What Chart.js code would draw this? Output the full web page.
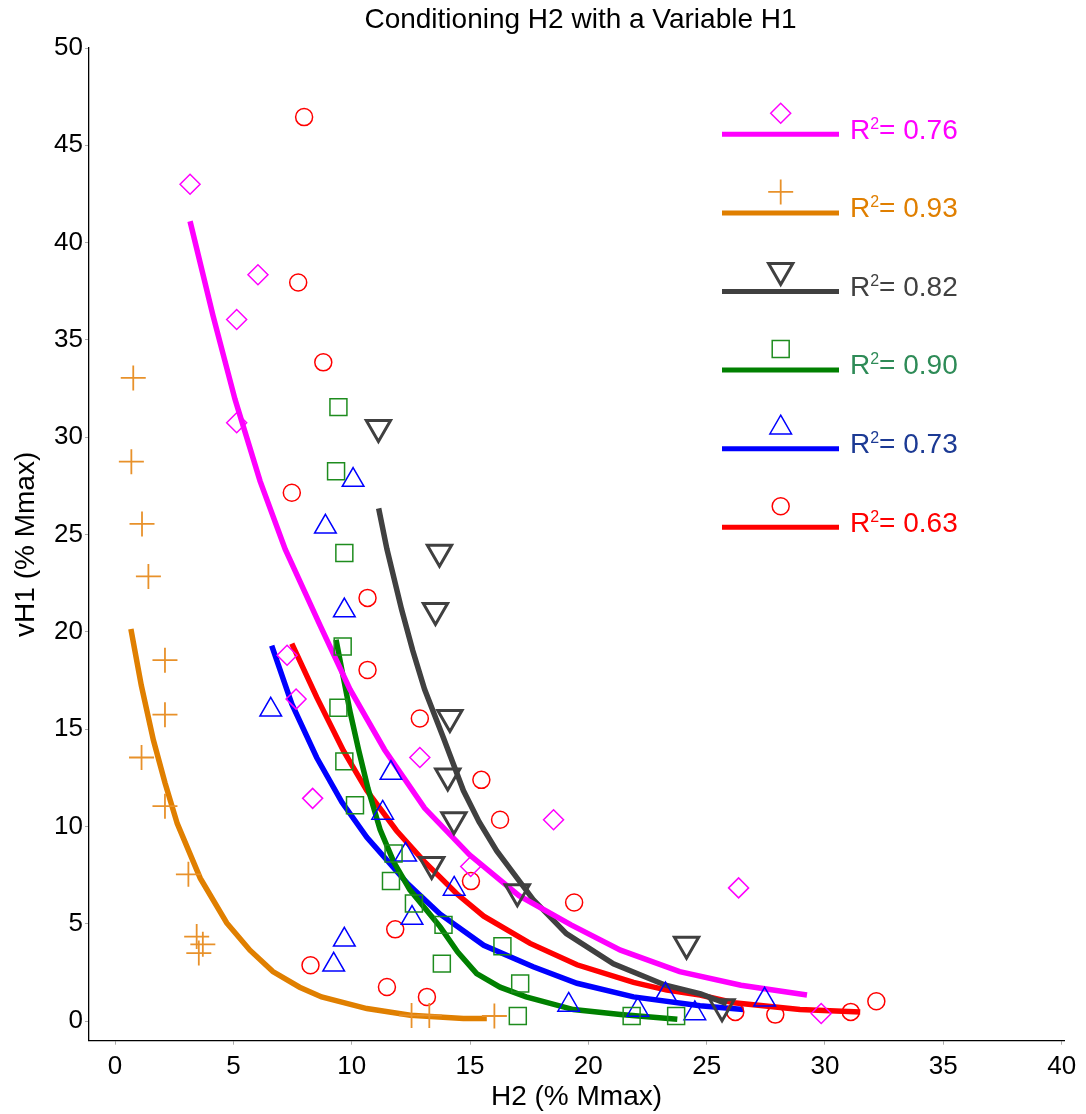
<!DOCTYPE html>
<html>
<head>
<meta charset="utf-8">
<script src="https://cdn.jsdelivr.net/npm/chart.js"></script>
<style>
  html, body { margin: 0; padding: 0; background: #fff; }
  #wrap { width: 1086px; height: 1114px; }
</style>
</head>
<body>
<div id="wrap"><canvas id="chart" width="1086" height="1114"></canvas></div>
<script>
// axis ticks
const xTicks = [0, 5, 10, 15, 20, 25, 30, 35, 40];
const yTicks = [0, 5, 10, 15, 20, 25, 30, 35, 40, 45, 50];
const r2Values = ['0.76', '0.93', '0.82', '0.90', '0.73', '0.63'];

// measured points [H2, vH1]
const diamondPts = [[3.17, 43.0], [6.04, 38.35], [5.14, 36.05], [5.14, 30.75], [7.27, 18.8], [7.65, 16.55],
  [8.35, 11.45], [12.88, 13.55], [15.03, 7.95], [18.53, 10.35], [26.35, 6.85], [29.84, 0.4]];
const plusPts = [[0.77, 33.05], [0.69, 28.75], [1.14, 25.55], [1.41, 22.85], [2.11, 18.55], [2.11, 15.75],
  [1.12, 13.55], [2.11, 11.05], [3.1, 7.55], [3.45, 4.35], [3.71, 3.95], [3.54, 3.5],
  [12.53, 0.3], [13.28, 0.3], [16.03, 0.27]];
const downTriPts = [[11.13, 30.5], [13.71, 24.1], [13.54, 21.1], [14.15, 15.6], [14.06, 12.6], [14.32, 10.35],
  [13.38, 8.05], [17.0, 6.65], [24.15, 3.95], [25.65, 0.75]];
const squarePts = [[9.44, 31.55], [9.34, 28.25], [9.69, 24.05], [9.62, 19.25], [9.44, 16.1], [9.69, 13.35],
  [10.14, 11.1], [11.77, 8.62], [11.66, 7.2], [12.63, 6.05], [13.88, 4.95], [13.81, 2.96],
  [16.37, 3.85], [17.12, 1.94], [17.02, 0.27], [21.83, 0.27], [23.71, 0.27]];
const upTriPts = [[10.06, 27.8], [8.89, 25.4], [9.69, 21.1], [6.58, 16.0], [11.66, 12.75], [11.31, 10.7],
  [12.28, 8.55], [14.33, 6.8], [12.55, 5.3], [9.69, 4.18], [9.24, 2.9], [19.17, 0.84],
  [22.09, 0.58], [23.26, 1.37], [24.5, 0.4], [27.45, 1.1]];
const circlePts = [[7.99, 46.45], [7.74, 37.95], [8.8, 33.85], [7.47, 27.15], [10.67, 21.75], [10.67, 18.05],
  [12.88, 15.55], [15.48, 12.4], [16.27, 10.35], [15.04, 7.2], [19.4, 6.1], [11.84, 4.72],
  [8.26, 2.88], [11.49, 1.76], [13.18, 1.25], [26.21, 0.48], [27.9, 0.34], [31.09, 0.48], [32.17, 1.03]];

// fitted curves
const diamondFit = [[3.17, 41.1], [4.14, 36.25], [5.07, 31.95], [6.13, 27.75], [7.19, 24.25], [8.66, 20.35],
  [9.93, 17.05], [11.39, 13.95], [13.08, 10.95], [14.98, 8.55], [17.07, 6.45], [19.27, 4.95],
  [21.36, 3.65], [23.86, 2.55], [26.45, 1.85], [29.24, 1.35]];
const plusFit = [[0.67, 20.15], [1.11, 17.25], [1.62, 14.45], [2.11, 12.25], [2.63, 10.15], [3.6, 7.35],
  [4.72, 5.05], [5.7, 3.65], [6.67, 2.55], [7.8, 1.75], [8.73, 1.25], [10.64, 0.65],
  [12.48, 0.31], [14.72, 0.14], [15.71, 0.14]];
const downTriFit = [[11.14, 26.35], [11.49, 24.25], [12.11, 21.15], [12.58, 19.05], [13.08, 17.05], [13.88, 14.55],
  [14.72, 11.85], [15.38, 10.25], [16.13, 8.75], [17.67, 6.25], [19.07, 4.5], [21.06, 2.95],
  [23.26, 1.85], [24.75, 1.4], [25.85, 0.9]];
const squareFit = [[9.34, 19.6], [9.65, 17.65], [9.94, 15.85], [10.29, 13.95], [10.69, 11.95], [11.2, 9.85],
  [11.79, 8.15], [12.46, 6.75], [13.74, 4.85], [14.48, 3.55], [15.28, 2.45], [16.27, 1.75],
  [17.37, 1.25], [19.37, 0.6], [21.36, 0.35], [23.76, 0.1]];
const upTriFit = [[6.62, 19.3], [7.47, 16.3], [8.52, 13.55], [9.59, 11.25], [10.64, 9.45], [12.38, 7.05],
  [13.74, 5.5], [15.58, 3.9], [17.67, 2.8], [19.52, 1.95], [21.91, 1.25], [24.72, 0.8], [26.55, 0.6]];
const circleFit = [[7.47, 19.4], [8.52, 16.65], [9.65, 13.9], [10.64, 11.85], [11.89, 9.8], [13.03, 8.25],
  [14.44, 6.55], [15.58, 5.4], [17.54, 4.0], [19.52, 2.9], [21.91, 2.0], [23.32, 1.6],
  [24.72, 1.35], [26.15, 0.95], [28.94, 0.6], [31.49, 0.48]];

const pointSets = [diamondPts, plusPts, downTriPts, squarePts, upTriPts, circlePts];
const fitSets = [diamondFit, plusFit, downTriFit, squareFit, upTriFit, circleFit];

const styles = [
  { mark: '#FF00FF', line: '#FF00FF', text: '#FF00FF', pointStyle: 'rectRot', radius: 10, width: 1.5, rotation: 0 },
  { mark: '#E8912A', line: '#E07F00', text: '#E07F00', pointStyle: 'cross', radius: 12.5, width: 1.8, rotation: 0 },
  { mark: '#404040', line: '#404040', text: '#404040', pointStyle: 'triangle', radius: 14, width: 3, rotation: 180 },
  { mark: '#1E8C1E', line: '#008000', text: '#2E8B57', pointStyle: 'rect', radius: 12, width: 1.5, rotation: 0 },
  { mark: '#0000FF', line: '#0000FF', text: '#1C3A94', pointStyle: 'triangle', radius: 12.5, width: 1.5, rotation: 0 },
  { mark: '#FF0000', line: '#FF0000', text: '#FF0000', pointStyle: 'circle', radius: 8.5, width: 1.5, rotation: 0 }
];

const FONT = '"Liberation Sans", Arial, Helvetica, sans-serif';
const toXY = arr => arr.map(p => ({ x: p[0], y: p[1] }));

const datasets = [];
pointSets.forEach((pts, i) => {
  const s = styles[i];
  datasets.push({
    data: toXY(pts),
    order: 0,
    showLine: false,
    pointStyle: s.pointStyle,
    pointRadius: s.radius,
    pointRotation: s.rotation,
    pointBorderWidth: s.width,
    pointBorderColor: s.mark,
    pointBackgroundColor: 'rgba(0,0,0,0)'
  });
});
fitSets.forEach((pts, i) => {
  datasets.push({
    data: toXY(pts),
    order: 1,
    showLine: true,
    borderColor: styles[i].line,
    borderWidth: 5.5,
    pointRadius: 0,
    fill: false,
    tension: 0
  });
});

// title and R² legend, drawn on the canvas
const extras = {
  id: 'extras',
  afterDraw(chart) {
    const ctx = chart.ctx;
    const ca = chart.chartArea;
    ctx.save();
    ctx.fillStyle = '#000';
    ctx.font = '28px ' + FONT;
    ctx.textAlign = 'center';
    ctx.textBaseline = 'middle';
    ctx.fillText('Conditioning H2 with a Variable H1', (ca.left + ca.right) / 2 + 4, 20);

    styles.forEach((s, i) => {
      const ly = 134.3 + i * 78.6;
      ctx.strokeStyle = s.line;
      ctx.lineWidth = 5;
      ctx.beginPath();
      ctx.moveTo(722, ly);
      ctx.lineTo(839, ly);
      ctx.stroke();

      ctx.strokeStyle = s.mark;
      ctx.fillStyle = 'rgba(0,0,0,0)';
      ctx.lineWidth = s.width;
      Chart.helpers.drawPoint(ctx, {
        pointStyle: s.pointStyle, radius: s.radius, rotation: s.rotation, borderWidth: s.width
      }, 780.7, ly - 21);

      ctx.fillStyle = s.text;
      ctx.textAlign = 'left';
      ctx.textBaseline = 'alphabetic';
      const by = ly + 4.3;
      let tx = 850;
      ctx.font = '28px ' + FONT;
      ctx.fillText('R', tx, by);
      tx += ctx.measureText('R').width;
      ctx.font = '16px ' + FONT;
      ctx.fillText('2', tx, by - 10);
      tx += ctx.measureText('2').width;
      ctx.font = '28px ' + FONT;
      ctx.fillText('= ' + r2Values[i], tx, by);
    });
    ctx.restore();
  }
};

Chart.defaults.font.family = FONT;
Chart.defaults.color = '#000';

new Chart(document.getElementById('chart'), {
  type: 'scatter',
  data: { datasets: datasets },
  options: {
    responsive: false,
    animation: false,
    events: [],
    layout: { padding: { top: 48, right: 22, left: 0, bottom: 0 } },
    plugins: {
      legend: { display: false },
      tooltip: { enabled: false },
      title: { display: false }
    },
    scales: {
      x: {
        type: 'linear',
        min: -1.1,
        max: 40.1,
        afterBuildTicks: scale => { scale.ticks = xTicks.map(v => ({ value: v })); },
        afterFit: scale => { scale.height = 73.3; },
        grid: { display: true, drawOnChartArea: false, tickLength: 4, color: '#aaa' },
        border: { display: true, color: '#000', width: 1.3 },
        ticks: { font: { size: 26 }, padding: 7, maxRotation: 0 },
        title: { display: true, text: 'H2 (% Mmax)', font: { size: 28 }, padding: { top: 0, bottom: 0 } }
      },
      y: {
        type: 'linear',
        min: -1,
        max: 50,
        afterBuildTicks: scale => { scale.ticks = yTicks.map(v => ({ value: v })); },
        afterFit: scale => { scale.width = 89; },
        grid: { display: true, drawOnChartArea: false, tickLength: 4, color: '#aaa' },
        border: { display: true, color: '#000', width: 1.3 },
        ticks: { font: { size: 26 }, padding: 2 },
        title: { display: true, text: 'vH1 (% Mmax)', font: { size: 28 }, padding: { top: 9, bottom: 0 } }
      }
    }
  },
  plugins: [extras]
});
</script>
</body>
</html>
